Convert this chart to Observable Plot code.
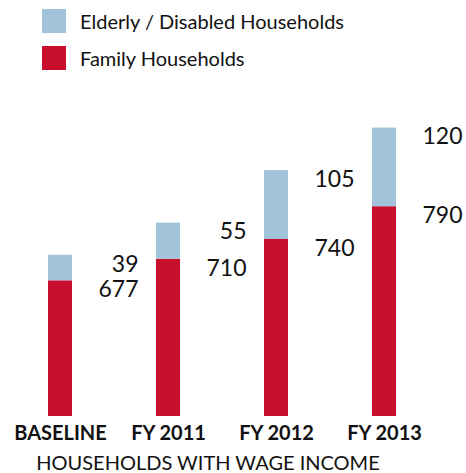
<!DOCTYPE html>
<html>
<head>
<meta charset="utf-8">
<script src="https://cdn.jsdelivr.net/npm/d3@7"></script>
<script src="https://cdn.jsdelivr.net/npm/@observablehq/plot@0.6"></script>
<style>
  body { margin: 0; background: #fff; font-family: Lato, "Open Sans", sans-serif; color: #111; }
  #wrap { width: 466px; position: relative; }
  #legend { position: relative; height: 80px; }
  .sw { position: absolute; left: 42px; width: 24px; height: 24px; }
  .lt { position: absolute; left: 80px; font-size: 20px; line-height: 24px; white-space: nowrap; }
</style>
</head>
<body>
<div id="wrap">
  <div id="legend"></div>
  <div id="chart"></div>
</div>
<script>
const categories = ["BASELINE", "FY 2011", "FY 2012", "FY 2013"];
const family = [677, 710, 740, 790];
const elderly = [39, 55, 105, 120];
const seriesNames = ["Elderly / Disabled Households", "Family Households"];
const seriesColors = ["#a2c4db", "#c8102e"];
const axisTitle = "HOUSEHOLDS WITH WAGE INCOME";

// legend
const legend = document.getElementById("legend");
seriesNames.forEach((name, i) => {
  const sw = document.createElement("div");
  sw.className = "sw";
  sw.style.top = (i === 0 ? 9 : 46) + "px";
  sw.style.background = seriesColors[i];
  legend.appendChild(sw);
  const t = document.createElement("div");
  t.className = "lt";
  t.style.top = (i === 0 ? 9 : 46) + "px";
  t.textContent = name;
  legend.appendChild(t);
});

// tidy rows: family first (bottom of stack), then elderly
const rows = [];
categories.forEach((c, i) => {
  rows.push({cat: c, type: seriesNames[1], value: family[i]});
  rows.push({cat: c, type: seriesNames[0], value: elderly[i]});
});

const chart = Plot.plot({
  width: 466,
  height: 393,
  marginLeft: 5,
  marginRight: 28,
  marginTop: 41,
  marginBottom: 57,
  style: {fontFamily: "Lato, 'Open Sans', sans-serif", background: "#fff", color: "#111", display: "block"},
  x: {domain: categories, paddingInner: 0.78, paddingOuter: 0.39, axis: null},
  y: {domain: [470, 920], axis: null},
  color: {domain: seriesNames, range: seriesColors},
  marks: [
    Plot.barY(rows, {x: "cat", y: "value", z: "type", fill: "type", clip: true}),
    Plot.text(rows, Plot.stackY2({
      x: "cat", y: "value", z: "type", text: "value",
      textAnchor: "end", dx: 78, dy: 9, fontSize: 23, fill: "#111"
    })),
    Plot.axisX({tickSize: 0, tickPadding: 9, fontSize: 20, fontWeight: "bold", label: null, fill: "#111"}),
    Plot.text([axisTitle], {frameAnchor: "bottom", lineAnchor: "middle", dy: 47, dx: -14, fontSize: 20, fill: "#111"})
  ]
});
document.getElementById("chart").appendChild(chart);
</script>
</body>
</html>
